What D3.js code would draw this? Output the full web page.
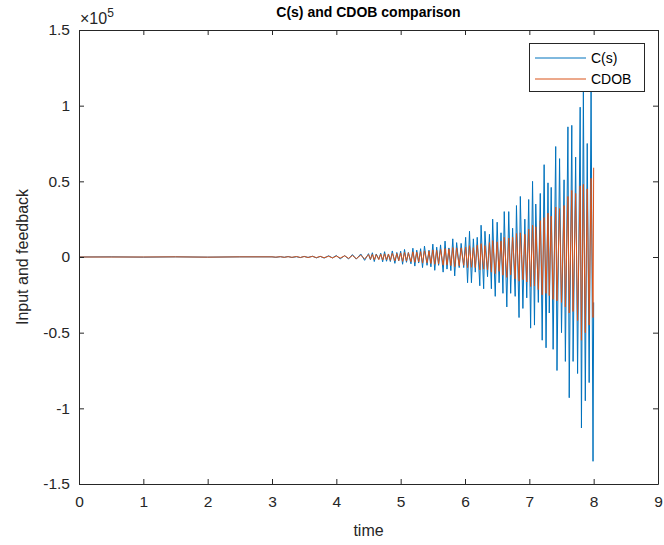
<!DOCTYPE html>
<html>
<head>
<meta charset="utf-8">
<script src="https://cdn.jsdelivr.net/npm/d3@7/dist/d3.min.js"></script>
<style>
  html, body { margin: 0; padding: 0; background: #fff; }
  svg { display: block; font-family: "Liberation Sans", Arial, Helvetica, sans-serif; }
  .axis path, .axis line { stroke: #262626; }
  .axis text { fill: #262626; }
</style>
</head>
<body>
<svg id="chart" width="664" height="545"></svg>
<script>
// values are in units of 10^5 (as shown by the axis exponent)
var seriesNames = ['C(s)', 'CDOB'];
var xTicks = [0, 1, 2, 3, 4, 5, 6, 7, 8, 9];
var yTicks = [-1.5, -1, -0.5, 0, 0.5, 1, 1.5];

// time stamps of the samples (s)
var time = [
  0, 0.5, 1.0, 1.5, 2.0, 2.5, 3.0,
  3.06, 3.13, 3.19, 3.25, 3.31, 3.38, 3.44, 3.50, 3.56, 3.63, 3.69, 3.75,
  3.81, 3.88, 3.94, 4.00, 4.06, 4.13, 4.19, 4.25, 4.31, 4.38, 4.44,
  4.50, 4.53, 4.56, 4.59, 4.62, 4.66, 4.69, 4.72, 4.75, 4.78, 4.81, 4.84,
  4.87, 4.91, 4.94, 4.97, 5.00, 5.03, 5.06, 5.09, 5.12, 5.16, 5.19, 5.22,
  5.25, 5.28, 5.31, 5.34, 5.37, 5.41, 5.44, 5.47, 5.50, 5.53, 5.56, 5.59,
  5.62, 5.66, 5.69, 5.72, 5.75, 5.78, 5.81, 5.84, 5.87, 5.91,
  5.94, 5.98, 6.01, 6.04, 6.07, 6.10, 6.13, 6.16, 6.19, 6.23,
  6.25, 6.29, 6.31, 6.35, 6.38, 6.41, 6.43, 6.47, 6.50, 6.53,
  6.56, 6.59, 6.61, 6.65, 6.68, 6.71, 6.74, 6.78, 6.80, 6.84,
  6.86, 6.90, 6.93, 6.96, 6.99, 7.02, 7.05, 7.08, 7.10, 7.14,
  7.17, 7.20, 7.23, 7.26, 7.29, 7.31, 7.34, 7.37, 7.41, 7.43,
  7.47, 7.50, 7.54, 7.56, 7.60, 7.62, 7.66, 7.68, 7.72, 7.75,
  7.79, 7.81, 7.84, 7.87, 7.90, 7.93, 7.96, 7.99, 8.00
];

// C(s)
var cs = [
  0, 0.001, -0.001, 0.001, -0.001, 0.001, 0.001,
  -0.002, 0.002, -0.002, 0.003, -0.003, 0.002, -0.004, 0.004, -0.003, 0.005, -0.006, 0.004,
  -0.007, 0.008, -0.006, 0.010, -0.012, 0.009, -0.013, 0.016, -0.014, 0.020, -0.022,
  0.022, -0.018, 0.028, -0.030, 0.020, -0.015, 0.025, -0.032, 0.035, -0.028, 0.020, -0.030,
  0.040, -0.042, 0.030, -0.025, 0.038, -0.048, 0.050, -0.035, 0.030, -0.045, 0.058, -0.060,
  0.045, -0.040, 0.055, -0.070, 0.072, -0.055, 0.045, -0.065, 0.085, -0.088, 0.065, -0.055,
  0.080, -0.100, 0.105, -0.080, 0.060, -0.090, 0.120, -0.125, 0.095, -0.070,
  0.09, -0.07, 0.13, -0.17, 0.17, -0.17, 0.12, -0.10, 0.13, -0.19,
  0.21, -0.21, 0.17, -0.13, 0.15, -0.21, 0.25, -0.26, 0.23, -0.17,
  0.16, -0.24, 0.30, -0.33, 0.30, -0.24, 0.19, -0.26, 0.34, -0.40,
  0.40, -0.34, 0.25, -0.27, 0.38, -0.47, 0.50, -0.45, 0.35, -0.30,
  0.42, -0.55, 0.61, -0.60, 0.49, -0.37, 0.46, -0.61, 0.73, -0.75,
  0.65, -0.50, 0.51, -0.69, 0.86, -0.93, 0.87, -0.69, 0.66, -0.77,
  0.99, -1.13, 1.09, -0.95, 0.75, -0.83, 1.12, -1.35, -0.30
];

// CDOB
var cdob = [
  0, 0, 0, 0.001, -0.001, 0.001, 0.001,
  -0.001, 0.002, -0.002, 0.002, -0.002, 0.003, -0.003, 0.003, -0.003, 0.004, -0.004, 0.004,
  -0.005, 0.005, -0.006, 0.006, -0.007, 0.008, -0.009, 0.010, -0.011, 0.012, -0.013,
  0.016, -0.015, 0.017, -0.018, 0.016, -0.017, 0.019, -0.020, 0.021, -0.019, 0.020, -0.022,
  0.024, -0.025, 0.023, -0.024, 0.027, -0.029, 0.030, -0.027, 0.028, -0.031, 0.034, -0.035,
  0.032, -0.033, 0.036, -0.040, 0.041, -0.038, 0.039, -0.043, 0.047, -0.048, 0.044, -0.045,
  0.050, -0.054, 0.056, -0.052, 0.053, -0.057, 0.062, -0.064, 0.060, -0.058,
  0.060, -0.055, 0.065, -0.070, 0.075, -0.068, 0.062, -0.070, 0.078, -0.085,
  0.088, -0.080, 0.075, -0.085, 0.095, -0.100, 0.108, -0.110, 0.100, -0.095,
  0.105, -0.120, 0.130, -0.135, 0.125, -0.118, 0.130, -0.145, 0.155, -0.160,
  0.160, -0.150, 0.150, -0.165, 0.185, -0.195, 0.210, -0.190, 0.200, -0.215,
  0.240, -0.250, 0.260, -0.240, 0.290, -0.255, 0.270, -0.280, 0.330, -0.290,
  0.320, -0.300, 0.340, -0.330, 0.400, -0.370, 0.440, -0.360, 0.420, -0.420,
  0.470, -0.550, 0.480, -0.500, 0.450, -0.450, 0.520, -0.400, 0.590
];

var colors = ['#0072BD', '#D95319'];

var svg = d3.select('#chart');
var margin = {left: 79, right: 6, top: 30, bottom: 61};
var W = 664, H = 545;

var x = d3.scaleLinear().domain([0, 9]).range([margin.left, W - margin.right]);
var y = d3.scaleLinear().domain([-1.5, 1.5]).range([H - margin.bottom, margin.top]);

var fmt = function(d) { return String(d); };

// 曲线
var line = d3.line()
    .x(function(d) { return x(d[0]); })
    .y(function(d) { return y(d[1]); });

[cs, cdob].forEach(function(vals, k) {
    var pts = time.map(function(t, i) { return [t, vals[i]]; });
    svg.append('path')
        .datum(pts)
        .attr('d', line)
        .attr('fill', 'none')
        .attr('stroke', colors[k])
        .attr('stroke-width', 1);
});

// 坐标轴 (ticks inside, box all round)
var gx = svg.append('g').attr('class', 'axis')
    .attr('transform', 'translate(0,' + y(-1.5) + ')')
    .call(d3.axisBottom(x).tickValues(xTicks).tickFormat(fmt).tickSizeInner(-5).tickSizeOuter(0).tickPadding(12));
gx.selectAll('text').attr('font-size', 15.5);

svg.append('g').attr('class', 'axis')
    .attr('transform', 'translate(0,' + y(1.5) + ')')
    .call(d3.axisTop(x).tickValues(xTicks).tickFormat('').tickSizeInner(-5).tickSizeOuter(0));

var gy = svg.append('g').attr('class', 'axis')
    .attr('transform', 'translate(' + x(0) + ',0)')
    .call(d3.axisLeft(y).tickValues(yTicks).tickFormat(fmt).tickSizeInner(-5).tickSizeOuter(0).tickPadding(9));
gy.selectAll('text').attr('font-size', 15.5);

svg.append('g').attr('class', 'axis')
    .attr('transform', 'translate(' + x(9) + ',0)')
    .call(d3.axisRight(y).tickValues(yTicks).tickFormat('').tickSizeInner(-5).tickSizeOuter(0));

// exponent label
var ex = svg.append('text')
    .attr('x', x(0) + 1).attr('y', margin.top - 6)
    .attr('font-size', 16).attr('fill', '#262626');
ex.append('tspan').text('\u00d710');
ex.append('tspan').attr('dy', -7).attr('font-size', 12).text('5');

// title & labels
svg.append('text')
    .attr('x', (x(0) + x(9)) / 2).attr('y', 17)
    .attr('text-anchor', 'middle')
    .attr('font-size', 14).attr('font-weight', 'bold').attr('fill', '#000')
    .text('C(s) and CDOB comparison');

svg.append('text')
    .attr('x', (x(0) + x(9)) / 2).attr('y', 536)
    .attr('text-anchor', 'middle')
    .attr('font-size', 16).attr('fill', '#262626')
    .text('time');

svg.append('text')
    .attr('transform', 'translate(28,' + y(0) + ') rotate(-90)')
    .attr('text-anchor', 'middle')
    .attr('font-size', 16).attr('fill', '#262626')
    .text('Input and feedback');

// legend
var lg = svg.append('g').attr('transform', 'translate(529,43)');
lg.append('rect')
    .attr('x', 0.5).attr('y', 0.5).attr('width', 115).attr('height', 48)
    .attr('fill', '#fff').attr('stroke', '#262626').attr('stroke-width', 1);
seriesNames.forEach(function(name, i) {
    var yy = 15 + i * 21;
    lg.append('line')
        .attr('x1', 6).attr('x2', 57).attr('y1', yy).attr('y2', yy)
        .attr('stroke', colors[i]).attr('stroke-width', 1);
    lg.append('text')
        .attr('x', 62).attr('y', yy + 5)
        .attr('font-size', 14).attr('fill', '#000')
        .text(name);
});
</script>
</body>
</html>
